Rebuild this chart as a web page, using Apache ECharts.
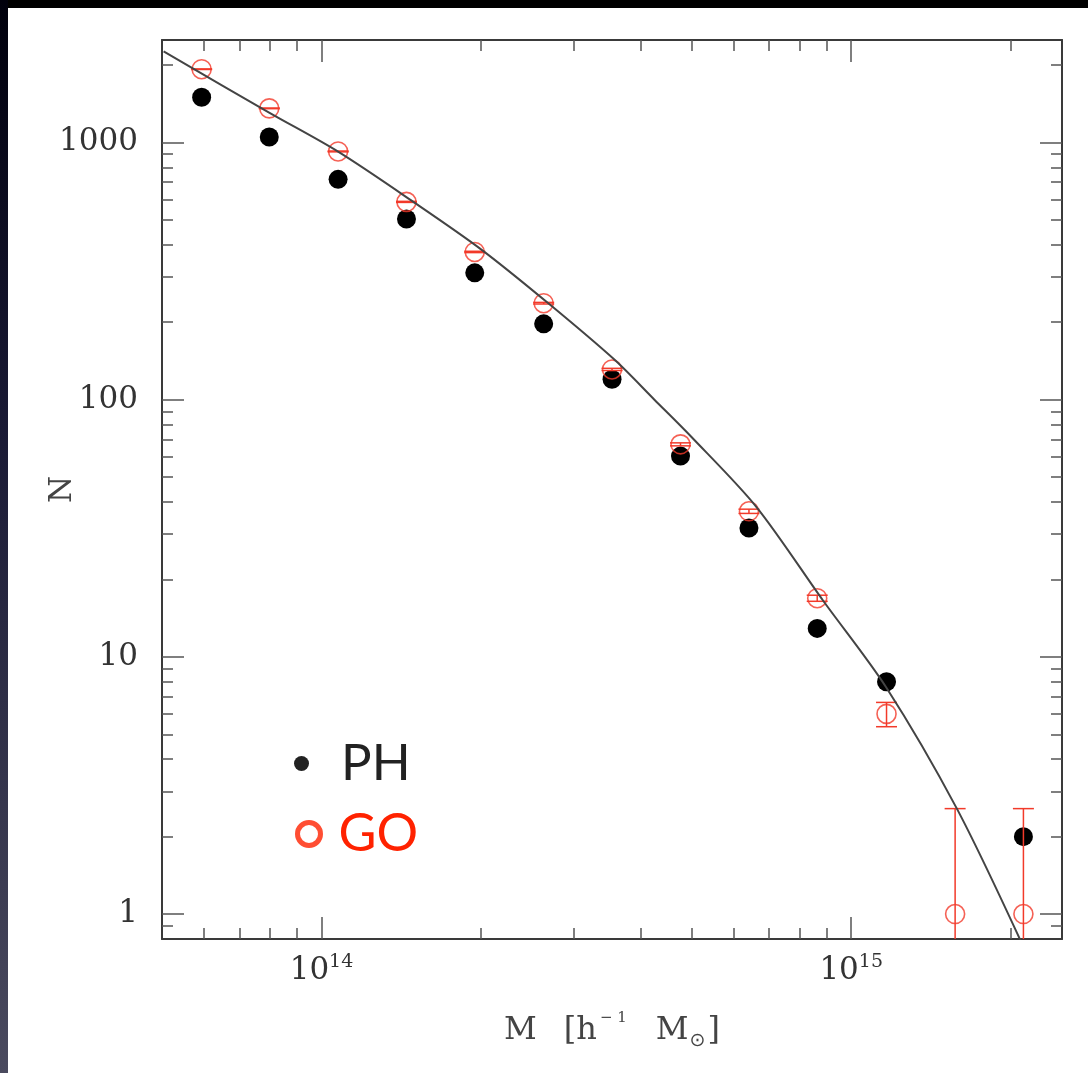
<!DOCTYPE html>
<html><head><meta charset="utf-8">
<script src="https://cdn.jsdelivr.net/npm/echarts@6/dist/echarts.min.js"></script>
<style>
html,body{margin:0;padding:0;background:#fff;}
#chart{position:absolute;left:0;top:0;width:1088px;height:1073px;}
#bandTop{position:absolute;left:0;top:0;width:1088px;height:8px;background:#000;z-index:2}
#bandLeft{position:absolute;left:0;top:0;width:8px;height:1073px;background:linear-gradient(#00000c,#1a1a35 40%,#4a4a5e);z-index:2}
</style></head><body>
<div id="chart"></div><div id="bandTop"></div><div id="bandLeft"></div>
<script>
// ---- data ----
const massBins = [5.94e13, 7.97e13, 1.075e14, 1.447e14, 1.947e14, 2.627e14, 3.536e14, 4.762e14, 6.412e14, 8.627e14, 1.166e15, 1.571e15, 2.114e15];
const phCounts = [1497, 1049, 718, 504, 311, 197, 120, 60.3, 31.7, 12.9, 8, null, 2];
const goCounts = [1925, 1356, 922, 587, 375, 237, 131, 67, 36.8, 16.9, 6, 1, 1];
const goErrors = [5, 4, 3.5, 2.8, 2.2, 1.7, 1.3, 0.9, 0.7, 0.46, 0.65, 1.57, 1.57];
const curveMass = [5.035e13, 7.98e13, 1.075e14, 1.5e14, 2.004e14, 2.677e14, 3.576e14, 4.256e14, 4.99e14, 6.62e14, 8.84e14, 1.164e15, 1.583e15, 2.086e15];
const curveN = [2257, 1302, 920, 582, 383, 237.4, 142.8, 99.7, 71.7, 38.3, 16.6, 7.62, 2.57, 0.792];
const xMajorTicks = [1e14, 1e15];
const xMinorTicks = [6e13, 7e13, 8e13, 9e13, 2e14, 3e14, 4e14, 5e14, 6e14, 7e14, 8e14, 9e14, 2e15];
const yMajorTicks = [1, 10, 100, 1000];
const yMinorTicks = [0.9, 2, 3, 4, 5, 6, 7, 8, 9, 20, 30, 40, 50, 60, 70, 80, 90, 200, 300, 400, 500, 600, 700, 800, 900, 2000];
const xRange = [5e13, 2.5e15];
const yRange = [0.8, 2500];
const seriesNames = ['PH', 'GO'];

// ---- styles ----
const serif = 'DejaVu Serif';
const axisColor = '#3a3a3a';
const tickColor = '#555';
const redMark = '#f23a2a';
const redText = '#ff2200';

function xAxisDef(pos, ticks, len, showLine, extra) {
  return Object.assign({
    type: 'log', logBase: 10, position: pos, min: xRange[0], max: xRange[1],
    axisLine: { show: showLine, onZero: false, lineStyle: { color: axisColor, width: 2 } },
    axisTick: { show: true, inside: true, length: len, customValues: ticks, lineStyle: { color: tickColor, width: 1.5 } },
    axisLabel: { show: false },
    splitLine: { show: false }, minorTick: { show: false }
  }, extra || {});
}
function yAxisDef(pos, ticks, len, showLine, extra) {
  return Object.assign({
    type: 'log', logBase: 10, position: pos, min: yRange[0], max: yRange[1],
    axisLine: { show: showLine, onZero: false, lineStyle: { color: axisColor, width: 2 } },
    axisTick: { show: true, inside: true, length: len, customValues: ticks, lineStyle: { color: tickColor, width: 1.5 } },
    axisLabel: { show: false },
    splitLine: { show: false }, minorTick: { show: false }
  }, extra || {});
}

const chart = echarts.init(document.getElementById('chart'), null, { renderer: 'canvas' });

const option = {
  animation: false,
  backgroundColor: 'transparent',
  grid: { left: 162, top: 40, right: 26, bottom: 134, containLabel: false },
  xAxis: [
    xAxisDef('bottom', xMajorTicks, 22, true, {
      axisLabel: {
        show: true, customValues: xMajorTicks, margin: 14,
        formatter: v => '{b|10}{s|' + Math.round(Math.log10(v)) + '}',
        rich: {
          b: { fontFamily: serif, fontSize: 31, color: '#333', lineHeight: 36 },
          s: { fontFamily: serif, fontSize: 19, color: '#333', verticalAlign: 'top', lineHeight: 22 }
        }
      },
      name: '{t|M}{g| }{t|[h}{sup|− 1}{g| }{t|M}{sub|⊙}{t|]}',
      nameLocation: 'middle', nameGap: 72, nameMoveOverlap: false,
      nameTextStyle: {
        rich: {
          t: { fontFamily: serif, fontSize: 32, color: '#444', lineHeight: 40 },
          g: { fontFamily: serif, fontSize: 31, width: 27 },
          sup: { fontFamily: serif, fontSize: 15, color: '#444', verticalAlign: 'top', lineHeight: 20, padding: [0, 2, 0, 3] },
          sub: { fontFamily: 'DejaVu Sans', fontSize: 19, color: '#444', verticalAlign: 'bottom', lineHeight: 14, padding: [0, 2, 0, 1] }
        }
      }
    }),
    xAxisDef('bottom', xMinorTicks, 11, false),
    xAxisDef('top', xMajorTicks, 22, true),
    xAxisDef('top', xMinorTicks, 11, false)
  ],
  yAxis: [
    yAxisDef('left', yMajorTicks, 22, true, {
      axisLabel: { show: true, customValues: yMajorTicks, margin: 24, fontFamily: serif, fontSize: 31, color: '#333',
        formatter: v => String(Math.round(v)) },
      name: 'N', nameLocation: 'middle', nameGap: 84, nameMoveOverlap: false,
      nameTextStyle: { fontFamily: serif, fontSize: 31, color: '#444' }
    }),
    yAxisDef('left', yMinorTicks, 11, false),
    yAxisDef('right', yMajorTicks, 22, true),
    yAxisDef('right', yMinorTicks, 11, false)
  ],
  legend: [
    {
      data: [{ name: seriesNames[0], icon: 'circle', itemStyle: { color: '#222' }, textStyle: { color: '#222' } }],
      left: 289, top: 733, itemWidth: 15, itemHeight: 15, selectedMode: false, orient: 'vertical',
      textStyle: { fontFamily: 'Lato', fontSize: 51, padding: [0, 0, 0, 27] }
    },
    {
      data: [{ name: seriesNames[1], icon: 'circle', itemStyle: { color: 'rgba(0,0,0,0)', borderColor: redText, borderWidth: 5 }, textStyle: { color: redText } }],
      left: 290, top: 803, itemWidth: 23, itemHeight: 23, selectedMode: false, orient: 'vertical',
      textStyle: { fontFamily: 'Lato', fontSize: 52, padding: [0, 0, 0, 13] }
    }
  ],
  series: [
    {
      name: 'model', type: 'line', xAxisIndex: 0, yAxisIndex: 0,
      data: curveMass.map((m, i) => [m, curveN[i]]),
      symbol: 'none', clip: true, z: 5, smooth: 0.3,
      lineStyle: { color: '#444', width: 2 }
    },
    {
      name: seriesNames[0], type: 'scatter', xAxisIndex: 0, yAxisIndex: 0,
      data: massBins.map((m, i) => [m, phCounts[i]]).filter(d => d[1] != null),
      symbol: 'circle', symbolSize: 19, z: 3,
      itemStyle: { color: '#000', opacity: 1 }
    },
    {
      name: 'GO errors', type: 'custom', xAxisIndex: 0, yAxisIndex: 0, z: 4,
      data: massBins.map((m, i) => [m, goCounts[i], goErrors[i]]),
      encode: { x: 0, y: 1 },
      renderItem: function (params, api) {
        const x = api.value(0), y = api.value(1), e = api.value(2);
        const hiP = api.coord([x, y + e]);
        let lo = y - e, clamped = false;
        if (lo < yRange[0]) { lo = yRange[0]; clamped = true; }
        const loP = api.coord([x, lo]);
        const hw = 10.5;
        const st = { stroke: redMark, lineWidth: 1.5, fill: null };
        const ch = [
          { type: 'line', shape: { x1: hiP[0], y1: hiP[1], x2: loP[0], y2: loP[1] }, style: st },
          { type: 'line', shape: { x1: hiP[0] - hw, y1: hiP[1], x2: hiP[0] + hw, y2: hiP[1] }, style: st }
        ];
        if (!clamped) ch.push({ type: 'line', shape: { x1: loP[0] - hw, y1: loP[1], x2: loP[0] + hw, y2: loP[1] }, style: st });
        return { type: 'group', children: ch };
      }
    },
    {
      name: seriesNames[1], type: 'scatter', xAxisIndex: 0, yAxisIndex: 0,
      data: massBins.map((m, i) => [m, goCounts[i]]),
      symbol: 'circle', symbolSize: 19, z: 4,
      itemStyle: { color: 'rgba(0,0,0,0)', borderColor: redMark, borderWidth: 1.6 }
    }
  ]
};
chart.setOption(option);
</script>
</body></html>
